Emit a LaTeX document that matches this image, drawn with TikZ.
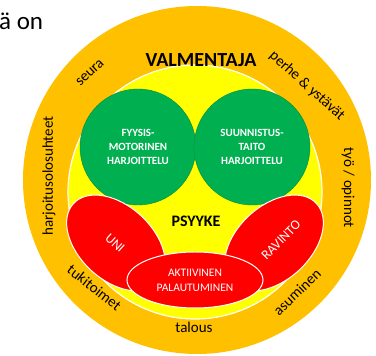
\documentclass[tikz,border=0pt]{standalone}
\usepackage{fontspec}
\setmainfont{Carlito}
\definecolor{ringorange}{HTML}{FFC000}
\definecolor{coreyellow}{HTML}{FFFF00}
\definecolor{skillgreen}{HTML}{00B050}
\definecolor{recred}{HTML}{FF0000}
\begin{document}
\begin{tikzpicture}[x=1pt,y=1pt,
  ringtext/.style={text=black, inner sep=0pt, font=\fontsize{15}{18}\selectfont},
  redshape/.style={fill=recred, draw=white, line width=1pt},
  greenshape/.style={fill=skillgreen, draw=skillgreen!80!black, line width=0.4pt},
  greentext/.style={text=white, align=center, inner sep=0pt, font=\fontsize{11}{14}\selectfont\bfseries},
  redtext/.style={text=white, align=center, inner sep=0pt, font=\fontsize{11.5}{15}\selectfont},
  titletext/.style={text=black, inner sep=0pt, font=\bfseries}]
\useasboundingbox (0,0) rectangle (376,356);
% fragment of slide text
\node[anchor=base west, inner sep=0pt, font=\fontsize{25}{30}\selectfont] (frag) at (-1,326) {ä on};
% rings
\fill[ringorange] (197,176) circle[radius=174];
\filldraw[fill=coreyellow, draw=white, line width=1.2pt] (195,164) circle[radius=127];
% green circles
\filldraw[greenshape] (138,209) circle[radius=58];
\filldraw[greenshape] (252,209) circle[radius=58];
\node[greentext] (fyys) at (138,209) {FYYSIS-\\MOTORINEN\\HARJOITTELU};
\node[greentext] (suun) at (252,209) {SUUNNISTUS-\\TAITO\\HARJOITTELU};
% red ellipses
\filldraw[redshape, rotate around={-43:(116,113)}] (116,113) ellipse[x radius=58, y radius=37];
\filldraw[redshape, rotate around={43:(274,113)}] (274,113) ellipse[x radius=58, y radius=37];
\filldraw[redshape] (195,76) ellipse[x radius=68, y radius=28];
\node[redtext, font=\fontsize{13.5}{16}\selectfont, rotate=-42] (uni) at (115,113) {UNI};
\node[redtext, font=\fontsize{13.5}{16}\selectfont, rotate=45] (ravinto) at (281,116) {RAVINTO};
\node[redtext] (aktiiv) at (195,76) {AKTIIVINEN\\PALAUTUMINEN};
% titles
\node[titletext, font=\fontsize{20}{24}\selectfont\bfseries] (valm) at (201,296) {VALMENTAJA};
\node[titletext, font=\fontsize{16}{20}\selectfont\bfseries] (psyyke) at (196,135) {PSYYKE};
% ring texts
\node[ringtext, rotate=43] (seura) at (90,283) {seura};
\node[ringtext, rotate=-42] (perhe) at (307,270) {perhe \& ystävät};
\node[ringtext, rotate=-90] (tyo) at (348,168) {työ / opinnot};
\node[ringtext, rotate=90] (harj) at (49,180) {harjoitusolosuhteet};
\node[ringtext, rotate=44] (asum) at (297,64) {asuminen};
\node[ringtext] (talous) at (194,28.5) {talous};
\node[ringtext, rotate=-38] (tuki) at (94.5,68.5) {tukitoimet};
\end{tikzpicture}
\end{document}
